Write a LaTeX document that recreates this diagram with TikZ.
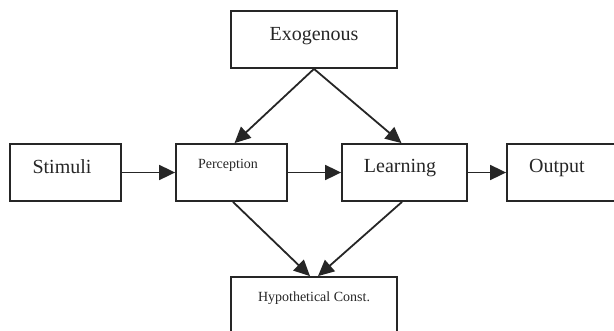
\documentclass[tikz,border=0pt]{standalone}
\usepackage{fontspec}
\setmainfont{Liberation Serif}
\usetikzlibrary{arrows.meta}
\begin{document}
\begin{tikzpicture}[x=1pt,y=-1pt,
  box/.style={draw=black!85,line width=1.8pt,inner sep=0pt,minimum height=57pt},
  big/.style={font=\fontsize{20}{20}\selectfont,text=black!85},
  small/.style={font=\fontsize{14}{14}\selectfont,text=black!85},
  arr/.style={draw=black!85,line width=1.8pt,-{Triangle[length=16pt,width=15pt]}}]
\useasboundingbox (0,0) rectangle (614,330);
\node[box,minimum width=166pt] (exo) at (314,39.5) {};
\node[box,minimum width=111pt] (sti) at (65.5,172.5) {};
\node[box,minimum width=111pt] (per) at (231.5,172.5) {};
\node[box,minimum width=125pt] (lea) at (404.5,172.5) {};
\node[box,minimum width=115pt] (out) at (564.5,172.5) {};
\node[box,minimum width=166pt,minimum height=64pt] (hyp) at (314,309) {};
\node[big] (exot) at (314,36) {Exogenous};
\node[big] (stit) at (62,167) {Stimuli};
\node[small] (pert) at (228,165) {Perception};
\node[big] (leat) at (400,168) {Learning};
\node[big] (outt) at (557,168) {Output};
\node[small] (hypt) at (314,298) {Hypothetical Const.};
\draw[arr] (exo.south) -- ([xshift=3pt]per.north);
\draw[arr] (exo.south) -- ([xshift=-3pt]lea.north);
\draw[arr] (sti.east) -- (per.west);
\draw[arr] (per.east) -- (lea.west);
\draw[arr] (lea.east) -- (out.west);
\draw[arr] ([xshift=1.5pt]per.south) -- ([xshift=-4pt]hyp.north);
\draw[arr] ([xshift=-2.5pt]lea.south) -- ([xshift=4pt]hyp.north);
\end{tikzpicture}
\end{document}
